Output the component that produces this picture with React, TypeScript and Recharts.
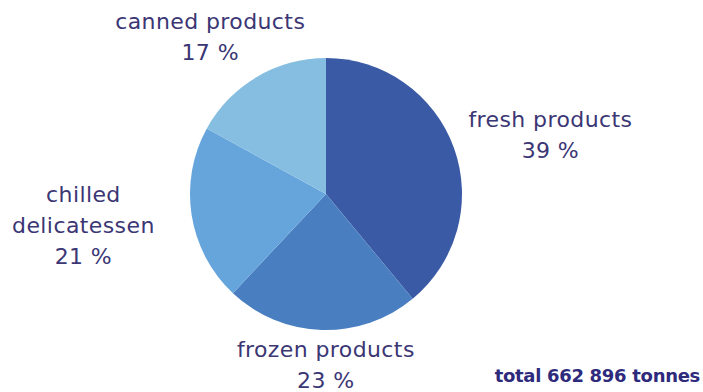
import { PieChart, Pie, Cell } from "recharts";

const categories = ["fresh products", "frozen products", "chilled delicatessen", "canned products"];
const labelLines = [["fresh products"], ["frozen products"], ["chilled", "delicatessen"], ["canned products"]];
const shares = [39, 23, 21, 17];
const colors = ["#3a5aa6", "#497fc0", "#66a5dc", "#86bee1"];
const totalText = "total 662 896 tonnes";

const data = categories.map((name, i) => ({ name, value: shares[i], lines: labelLines[i] }));

// label placement: polar point at a common radius, then small nudges per slice
const LABEL_RADIUS = 196;
const labelNudge = [
  [40, 7],
  [6, -25],
  [-49, 0],
  [-16, 11],
];
const TEXT = "#3b3674";
const LINE_H = 31;

const RADIAN = Math.PI / 180;

function renderLabel(props: any) {
  const { cx, cy, midAngle, index, payload } = props;
  const x = cx + Math.cos(-midAngle * RADIAN) * LABEL_RADIUS + labelNudge[index][0];
  const y = cy + Math.sin(-midAngle * RADIAN) * LABEL_RADIUS + labelNudge[index][1];
  const lines = [...(payload.lines ?? payload.payload?.lines ?? []), `${shares[index]} %`];
  const top = y - ((lines.length - 1) * LINE_H) / 2;
  return (
    <text
      key={index}
      x={x}
      y={top}
      textAnchor="middle"
      dominantBaseline="central"
      fill={TEXT}
      fontSize={22}
      letterSpacing={0.4}
      fontFamily="'DejaVu Sans', sans-serif"
    >
      {lines.map((l: string, i: number) => (
        <tspan key={i} x={x} y={top + i * LINE_H}>
          {l}
        </tspan>
      ))}
    </text>
  );
}

export default function App() {
  return (
    <div style={{ width: 703, height: 392, background: "#ffffff", position: "relative" }}>
      <style>{"body{margin:0}"}</style>
      <PieChart width={703} height={392} margin={{ top: 0, right: 0, bottom: 0, left: 0 }}>
        <Pie
          data={data}
          dataKey="value"
          nameKey="name"
          cx={326}
          cy={194}
          outerRadius={136}
          startAngle={90}
          endAngle={-270}
          stroke="none"
          labelLine={false}
          label={renderLabel}
          isAnimationActive={false}
        >
          {data.map((d, i) => (
            <Cell key={d.name} fill={colors[i]} />
          ))}
        </Pie>
        <text
          x={700}
          y={375}
          textAnchor="end"
          dominantBaseline="central"
          fill="#2e2a7c"
          fontSize={18}
          letterSpacing={-0.3}
          fontWeight="bold"
          fontFamily="'DejaVu Sans', sans-serif"
        >
          {totalText}
        </text>
      </PieChart>
    </div>
  );
}
